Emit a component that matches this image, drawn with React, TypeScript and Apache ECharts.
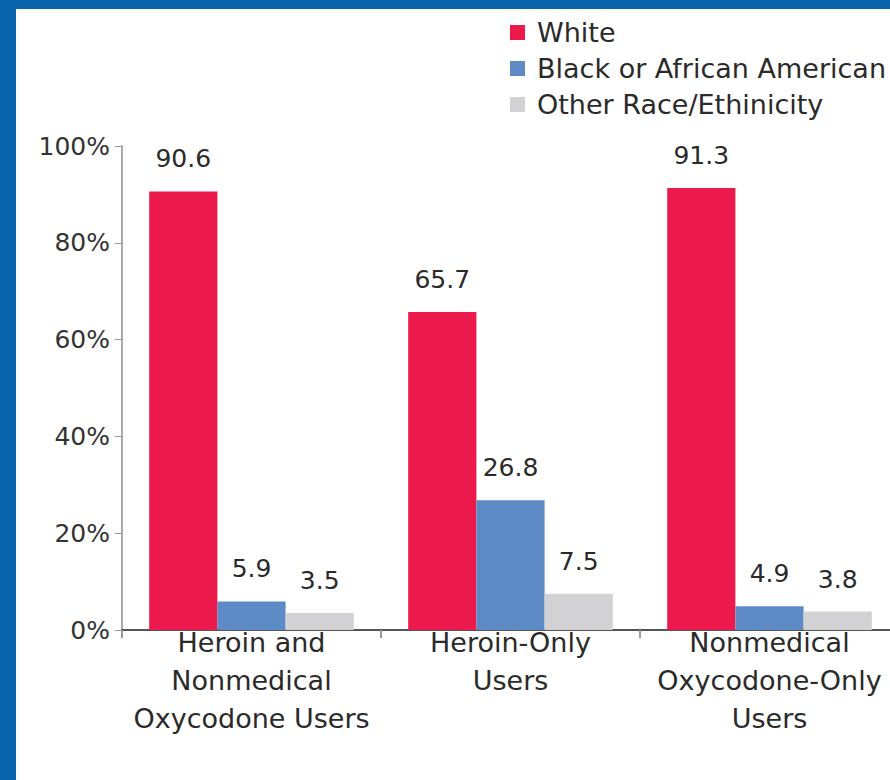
import React, { useEffect, useRef } from "react";
import * as echarts from "echarts";

const categories = [
  "Heroin and\nNonmedical\nOxycodone Users",
  "Heroin-Only\nUsers",
  "Nonmedical\nOxycodone-Only\nUsers",
];
const seriesNames = ["White", "Black or African American", "Other Race/Ethinicity"];
const white = [90.6, 65.7, 91.3];
const black = [5.9, 26.8, 4.9];
const other = [3.5, 7.5, 3.8];
const yTicks = [0, 20, 40, 60, 80, 100];

const colors = ["#EC1A4C", "#5E8AC6", "#D2D2D4"];
const FONT = "DejaVu Sans, Liberation Sans, Arial, sans-serif";

export default function App() {
  const ref = useRef<HTMLDivElement>(null);
  useEffect(() => {
    if (!ref.current) return;
    const chart = echarts.init(ref.current, null, { renderer: "svg" });
    const values = [white, black, other];
    chart.setOption({
      animation: false,
      backgroundColor: "#ffffff",
      textStyle: { fontFamily: FONT },
      graphic: [
        { type: "rect", left: 0, top: 0, shape: { width: 16, height: 780 }, style: { fill: "#0A64AD" } },
        { type: "rect", left: 0, top: 0, shape: { width: 900, height: 9 }, style: { fill: "#0A64AD" } },
      ],
      legend: {
        orient: "vertical",
        left: 505,
        top: 14,
        icon: "rect",
        itemWidth: 15,
        itemHeight: 15,
        itemGap: 9,
        textStyle: { fontSize: 27, color: "#2a2a2a", fontFamily: FONT, lineHeight: 26, padding: [0, 0, 0, 7] },
        data: seriesNames,
      },
      grid: { left: 122, right: 1, top: 146, bottom: 150, containLabel: false },
      xAxis: {
        type: "category",
        data: categories,
        axisLine: { lineStyle: { color: "#555", width: 2 } },
        axisTick: { show: true, length: 8, lineStyle: { color: "#999", width: 2 } },
        axisLabel: { interval: 0, fontSize: 27, color: "#2a2a2a", lineHeight: 38, margin: -7, fontFamily: FONT },
      },
      yAxis: {
        type: "value",
        min: 0,
        max: 100,
        interval: 20,
        splitLine: { show: false },
        axisLine: { show: true, lineStyle: { color: "#aaa", width: 2 } },
        axisTick: { show: true, length: 7, lineStyle: { color: "#999" } },
        axisLabel: {
          fontSize: 25,
          color: "#333",
          margin: 12,
          fontFamily: FONT,
          formatter: (v: number) => (yTicks.includes(v) ? v + "%" : ""),
        },
      },
      series: seriesNames.map((name, i) => ({
        name,
        type: "bar",
        data: values[i],
        barGap: "0%",
        barCategoryGap: "21%",
        itemStyle: { color: colors[i] },
        label: {
          show: true,
          position: "top",
          distance: 20,
          fontSize: 25,
          color: "#2a2a2a",
          fontFamily: FONT,
          formatter: (p: any) => p.value.toFixed(1),
        },
      })),
    });
    return () => chart.dispose();
  }, []);
  return (
    <div
      ref={ref}
      style={{ position: "fixed", left: 0, top: 0, width: 900, height: 780, overflow: "hidden" }}
    />
  );
}
